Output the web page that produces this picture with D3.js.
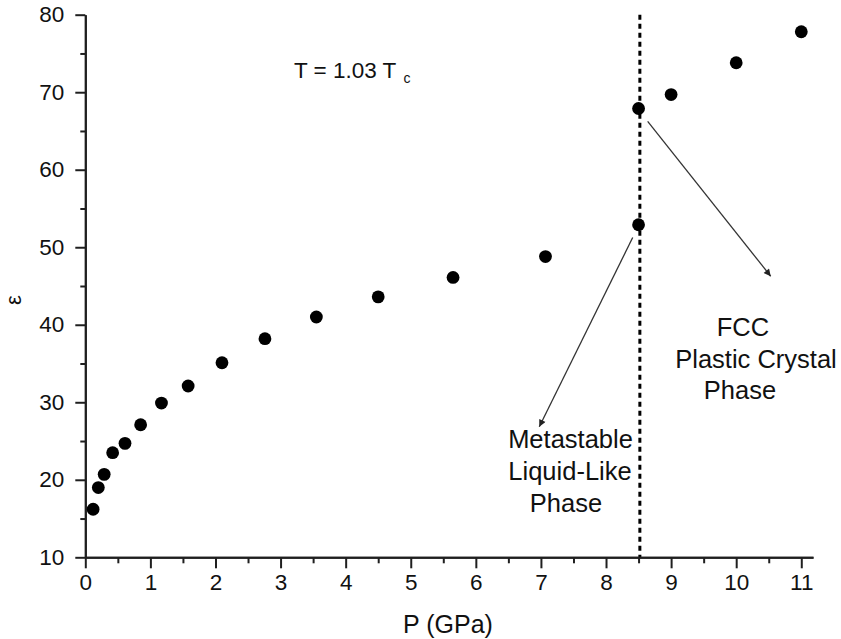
<!DOCTYPE html>
<html>
<head>
<meta charset="utf-8">
<script src="https://cdn.jsdelivr.net/npm/d3@7"></script>
<style>
  html, body { margin: 0; padding: 0; background: #fff; }
  svg { display: block; }
  text { font-family: "Liberation Sans", Arial, sans-serif; fill: #111; }
</style>
</head>
<body>
<svg id="chart" width="841" height="639"></svg>
<script>
// ---- data ----
const pressure = [0.12, 0.2, 0.29, 0.42, 0.61, 0.85, 1.17, 1.58, 2.1, 2.76, 3.55, 4.5, 5.65, 7.07, 8.5, 8.5, 9.0, 10.0, 11.0];
const epsilon  = [16.2, 19.0, 20.7, 23.5, 24.7, 27.1, 29.9, 32.1, 35.1, 38.2, 41.0, 43.6, 46.1, 48.8, 52.9, 67.9, 69.7, 73.8, 77.8];
const xTicks = [0, 1, 2, 3, 4, 5, 6, 7, 8, 9, 10, 11];
const xMinorTicks = [0.5, 1.5, 2.5, 3.5, 4.5, 5.5, 6.5, 7.5, 8.5, 9.5, 10.5];
const yTicks = [10, 20, 30, 40, 50, 60, 70, 80];
const yMinorTicks = [15, 25, 35, 45, 55, 65, 75];
const transitionP = 8.52;
// arrows: [fromP, fromEps, toP, toEps]
const arrowFCC = [8.64, 66.25, 10.53, 46.26];
const arrowLiquid = [8.41, 51.25, 6.975, 26.84];
const labelFCC = ["FCC", "Plastic Crystal", "Phase"];
const labelLiquid = ["Metastable", "Liquid-Like", "Phase"];

// ---- chart ----
const svg = d3.select("#chart");
const x = d3.scaleLinear().domain([0, 11.18]).range([85.3, 813]);
const y = d3.scaleLinear().domain([10, 80]).range([557.3, 14.7]);
const axisColor = "#1f1f1f";
const fontFam = "'Liberation Sans', Arial, sans-serif";

// dashed transition line
svg.append("line")
  .attr("x1", x(transitionP)).attr("x2", x(transitionP))
  .attr("y1", y(80)).attr("y2", y(10))
  .attr("stroke", "#000").attr("stroke-width", 3)
  .attr("stroke-dasharray", "5,4");

// x axis
const gx = svg.append("g").attr("transform", `translate(0,${y(10)})`);
gx.call(d3.axisBottom(x).tickValues(xMinorTicks).tickSize(6).tickSizeOuter(0).tickFormat(""));
gx.append("g").call(d3.axisBottom(x).tickValues(xTicks).tickSize(11).tickSizeOuter(0).tickPadding(6));
gx.selectAll("g.tick line").attr("stroke", axisColor).attr("stroke-width", 2);
gx.selectAll(".domain").attr("stroke", axisColor).attr("stroke-width", 2);
gx.selectAll("g").attr("font-size", null).attr("font-family", null);
gx.selectAll("text").style("font-size", "22.5px").style("font-family", fontFam).attr("fill", "#111");

// y axis
const gy = svg.append("g").attr("transform", `translate(${x(0)},0)`);
gy.call(d3.axisLeft(y).tickValues(yMinorTicks).tickSize(5).tickSizeOuter(0).tickFormat(""));
gy.append("g").call(d3.axisLeft(y).tickValues(yTicks).tickSize(10).tickSizeOuter(0).tickPadding(11));
gy.selectAll("g.tick line").attr("stroke", axisColor).attr("stroke-width", 2);
gy.selectAll(".domain").attr("stroke", axisColor).attr("stroke-width", 2);
gy.selectAll("g").attr("font-size", null).attr("font-family", null);
gy.selectAll("text").style("font-size", "22.5px").style("font-family", fontFam).attr("fill", "#111");

// axis titles
svg.append("text").attr("x", 448).attr("y", 633).attr("text-anchor", "middle")
  .style("font-size", "25px").text("P (GPa)");
svg.append("text").attr("transform", "translate(21,300) rotate(-90)").attr("text-anchor", "middle")
  .style("font-size", "22px").text("ε");

// points
svg.append("g").selectAll("circle").data(pressure.map((p, i) => [p, epsilon[i]]))
  .join("circle")
  .attr("cx", d => x(d[0])).attr("cy", d => y(d[1])).attr("r", 6.4)
  .attr("fill", "#000");

// arrows
const defs = svg.append("defs");
defs.append("marker").attr("id", "ah").attr("viewBox", "0 0 10 10")
  .attr("refX", 10).attr("refY", 5).attr("markerWidth", 12).attr("markerHeight", 7)
  .attr("markerUnits", "userSpaceOnUse").attr("orient", "auto")
  .append("path").attr("d", "M0,0 L10,5 L0,10 z").attr("fill", "#222");
[arrowFCC, arrowLiquid].forEach(a => {
  svg.append("line")
    .attr("x1", x(a[0])).attr("y1", y(a[1]))
    .attr("x2", x(a[2])).attr("y2", y(a[3]))
    .attr("stroke", "#333").attr("stroke-width", 1.3)
    .attr("marker-end", "url(#ah)");
});

// annotations
const t = svg.append("text").attr("x", 294).attr("y", 78).style("font-size", "22.5px");
t.append("tspan").text("T = 1.03 T");
t.append("tspan").attr("dy", 5).attr("dx", 7).style("font-size", "14px").text("c");

const fcc = svg.append("text").attr("text-anchor", "middle").style("font-size", "25.5px");
labelFCC.forEach((s, i) => fcc.append("tspan").attr("x", [743, 756, 740][i]).attr("y", 336 + i * 31.5).text(s));
const liq = svg.append("text").attr("text-anchor", "middle").style("font-size", "25.5px");
labelLiquid.forEach((s, i) => liq.append("tspan").attr("x", [570.5, 570, 566][i]).attr("y", 448 + i * 32).text(s));
</script>
</body>
</html>
